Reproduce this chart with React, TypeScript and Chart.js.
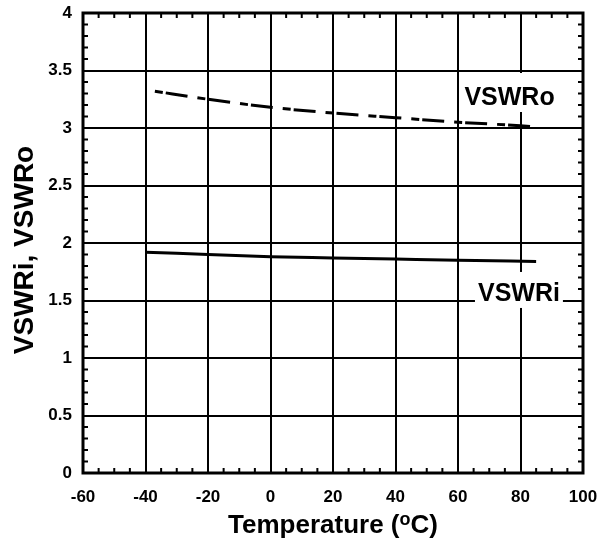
import { useEffect, useRef } from "react";
import { Chart, registerables } from "chart.js";

Chart.register(...registerables);

// ---- data ----
const tempVSWRo = [-37, -20, 0, 20, 40, 60, 80, 85];
const valVSWRo = [3.32, 3.25, 3.18, 3.13, 3.09, 3.05, 3.02, 3.01];
const tempVSWRi = [-40, -20, 0, 20, 40, 60, 85];
const valVSWRi = [1.92, 1.9, 1.88, 1.87, 1.86, 1.85, 1.84];

const xTickValues = [-60, -40, -20, 0, 20, 40, 60, 80, 100];
const xTickLabels = ["-60", "-40", "-20", "0", "20", "40", "60", "80", "100"];
const yTickValues = [0, 0.5, 1, 1.5, 2, 2.5, 3, 3.5, 4];
const yTickLabels = ["0", "0.5", "1", "1.5", "2", "2.5", "3", "3.5", "4"];

const X_MIN = -60;
const X_MAX = 100;
const X_STEP = 20;
const X_MINOR = 5;
const Y_MIN = 0;
const Y_MAX = 4;
const Y_STEP = 0.5;
const Y_MINOR = 0.1;

const X_TITLE_A = "Temperature (";
const X_TITLE_SUP = "o";
const X_TITLE_B = "C)";
const Y_TITLE = "VSWRi, VSWRo";

const LABEL_O = { text: "VSWRo", x: 76.5, y: 3.2 };
const LABEL_I = { text: "VSWRi", x: 79.5, y: 1.496 };

const FONT = "'Liberation Sans', Arial, Helvetica, sans-serif";

const labelFor = (vals: number[], labs: string[]) => (v: any) => {
  const i = vals.findIndex((t) => Math.abs(t - Number(v)) < 1e-9);
  return i >= 0 ? labs[i] : "";
};

const decorPlugin = {
  id: "decor",
  afterDatasetsDraw(chart: any) {
    const { ctx, chartArea: a, scales } = chart;
    const xs = scales.x;
    const ys = scales.y;
    ctx.save();

    // in-plot labels with white background
    const drawLabel = (lab: any, up: number, down: number) => {
      ctx.font = `bold 25px ${FONT}`;
      const w = ctx.measureText(lab.text).width;
      const cx = xs.getPixelForValue(lab.x);
      const by = ys.getPixelForValue(lab.y);
      ctx.fillStyle = "#fff";
      ctx.fillRect(cx - w / 2 - 3, by - up, w + 6, up + down);
      ctx.fillStyle = "#000";
      ctx.textAlign = "center";
      ctx.textBaseline = "alphabetic";
      ctx.fillText(lab.text, cx, by);
    };
    drawLabel(LABEL_O, 32, 7);
    drawLabel(LABEL_I, 29, 7);

    // minor ticks (inward, all four sides)
    ctx.strokeStyle = "#000";
    ctx.lineWidth = 2;
    ctx.beginPath();
    const nx = Math.round((X_MAX - X_MIN) / X_MINOR);
    const perMajX = Math.round(X_STEP / X_MINOR);
    for (let i = 0; i <= nx; i++) {
      if (i % perMajX === 0) continue;
      const px = xs.getPixelForValue(X_MIN + i * X_MINOR);
      ctx.moveTo(px, a.bottom);
      ctx.lineTo(px, a.bottom - 5);
      ctx.moveTo(px, a.top);
      ctx.lineTo(px, a.top + 5);
    }
    const ny = Math.round((Y_MAX - Y_MIN) / Y_MINOR);
    const perMajY = Math.round(Y_STEP / Y_MINOR);
    for (let i = 0; i <= ny; i++) {
      if (i % perMajY === 0) continue;
      const py = ys.getPixelForValue(Y_MIN + i * Y_MINOR);
      ctx.moveTo(a.left, py);
      ctx.lineTo(a.left + 5, py);
      ctx.moveTo(a.right, py);
      ctx.lineTo(a.right - 5, py);
    }
    ctx.stroke();

    // frame
    ctx.lineWidth = 3;
    ctx.strokeRect(a.left, a.top, a.right - a.left, a.bottom - a.top);

    // x title with superscript
    ctx.fillStyle = "#000";
    ctx.textAlign = "left";
    ctx.textBaseline = "alphabetic";
    ctx.font = `bold 26px ${FONT}`;
    const w1 = ctx.measureText(X_TITLE_A).width;
    const w3 = ctx.measureText(X_TITLE_B).width;
    ctx.font = `bold 18px ${FONT}`;
    const w2 = ctx.measureText(X_TITLE_SUP).width;
    const total = w1 + w2 + w3;
    const cx = (a.left + a.right) / 2;
    let sx = cx - total / 2;
    const base = 533;
    ctx.font = `bold 26px ${FONT}`;
    ctx.fillText(X_TITLE_A, sx, base);
    sx += w1;
    ctx.font = `bold 18px ${FONT}`;
    ctx.fillText(X_TITLE_SUP, sx, base - 8);
    sx += w2;
    ctx.font = `bold 26px ${FONT}`;
    ctx.fillText(X_TITLE_B, sx, base);

    // y title
    ctx.save();
    ctx.translate(33, 250);
    ctx.rotate(-Math.PI / 2);
    ctx.textAlign = "center";
    ctx.font = `bold 28px ${FONT}`;
    ctx.fillText(Y_TITLE, 0, 0);
    ctx.restore();

    ctx.restore();
  },
};

export default function App() {
  const ref = useRef<HTMLCanvasElement | null>(null);
  useEffect(() => {
    if (!ref.current) return;
    const chart = new Chart(ref.current, {
      type: "line",
      data: {
        datasets: [
          {
            label: "VSWRo",
            data: tempVSWRo.map((t, i) => ({ x: t, y: valVSWRo[i] })),
            borderColor: "#000",
            borderWidth: 3,
            borderDash: [8, 3, 22, 10],
            pointRadius: 0,
            cubicInterpolationMode: "monotone",
            fill: false,
          },
          {
            label: "VSWRi",
            data: tempVSWRi.map((t, i) => ({ x: t, y: valVSWRi[i] })),
            borderColor: "#000",
            borderWidth: 3,
            pointRadius: 0,
            cubicInterpolationMode: "monotone",
            fill: false,
          },
        ],
      },
      options: {
        responsive: false,
        animation: false,
        devicePixelRatio: 1,
        layout: { padding: { top: 13, right: 28, left: 0, bottom: 0 } },
        plugins: {
          legend: { display: false },
          tooltip: { enabled: false },
          title: { display: false },
        },
        scales: {
          x: {
            type: "linear",
            min: X_MIN,
            max: X_MAX,
            ticks: {
              stepSize: X_STEP,
              color: "#000",
              font: { family: FONT, size: 17, weight: "bold" },
              padding: 14,
              maxRotation: 0,
              callback: labelFor(xTickValues, xTickLabels),
            },
            grid: { color: "#000", lineWidth: 2, drawTicks: false },
            border: { display: false },
            afterFit: (s: any) => {
              s.height = 71;
              s.paddingLeft = 0;
              s.paddingRight = 0;
            },
          },
          y: {
            type: "linear",
            min: Y_MIN,
            max: Y_MAX,
            ticks: {
              stepSize: Y_STEP,
              color: "#000",
              font: { family: FONT, size: 17, weight: "bold" },
              padding: 11,
              callback: labelFor(yTickValues, yTickLabels),
            },
            grid: { color: "#000", lineWidth: 2, drawTicks: false },
            border: { display: false },
            afterFit: (s: any) => {
              s.width = 83;
              s.paddingTop = 0;
              s.paddingBottom = 0;
            },
          },
        },
      },
      plugins: [decorPlugin],
    } as any);
    return () => chart.destroy();
  }, []);
  return (
    <div style={{ position: "absolute", left: 0, top: 0, width: 611, height: 544, background: "#fff" }}>
      <canvas ref={ref} width={611} height={544} />
    </div>
  );
}
